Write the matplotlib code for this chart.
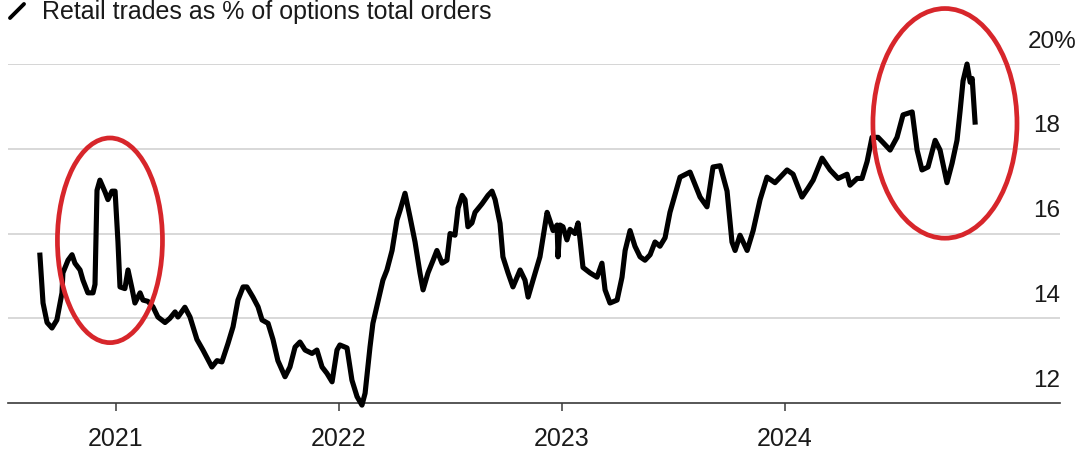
import matplotlib.pyplot as plt
from matplotlib.patches import Ellipse
from matplotlib.lines import Line2D

plt.rcParams["font.family"] = ["Liberation Sans", "DejaVu Sans"]

# decimal year, % of options total orders
years = [
    2020.659, 2020.673, 2020.691, 2020.713, 2020.735, 2020.758, 2020.762, 2020.785,
    2020.803, 2020.816, 2020.839, 2020.852, 2020.874, 2020.897, 2020.906, 2020.915,
    2020.928, 2020.951, 2020.964, 2020.982, 2020.996, 2021.009, 2021.018, 2021.040,
    2021.054, 2021.072, 2021.085, 2021.108, 2021.121, 2021.143, 2021.166, 2021.188,
    2021.220, 2021.242, 2021.265, 2021.278, 2021.309, 2021.332, 2021.363, 2021.390,
    2021.430, 2021.453, 2021.475, 2021.502, 2021.525, 2021.547, 2021.570, 2021.587,
    2021.614, 2021.637, 2021.655, 2021.682, 2021.704, 2021.726, 2021.758, 2021.780,
    2021.803, 2021.825, 2021.848, 2021.879, 2021.901, 2021.924, 2021.946, 2021.969,
    2021.991, 2022.004, 2022.036, 2022.058, 2022.081, 2022.103, 2022.117, 2022.139,
    2022.152, 2022.184, 2022.197, 2022.215, 2022.238, 2022.260, 2022.274, 2022.296,
    2022.318, 2022.341, 2022.363, 2022.377, 2022.399, 2022.422, 2022.439, 2022.462,
    2022.484, 2022.498, 2022.520, 2022.534, 2022.552, 2022.565, 2022.578, 2022.596,
    2022.610, 2022.641, 2022.668, 2022.686, 2022.700, 2022.722, 2022.735, 2022.758,
    2022.780, 2022.812, 2022.834, 2022.848, 2022.870, 2022.901, 2022.933, 2022.946,
    2022.960, 2022.978, 2022.982, 2022.991, 2023.004, 2023.022, 2023.036, 2023.058,
    2023.072, 2023.081, 2023.094, 2023.126, 2023.157, 2023.179, 2023.193, 2023.215,
    2023.247, 2023.269, 2023.283, 2023.305, 2023.327, 2023.350, 2023.372, 2023.395,
    2023.417, 2023.439, 2023.462, 2023.484, 2023.529, 2023.574, 2023.619, 2023.650,
    2023.677, 2023.709, 2023.740, 2023.762, 2023.776, 2023.798, 2023.830, 2023.857,
    2023.888, 2023.919, 2023.955, 2024.009, 2024.036, 2024.076, 2024.103, 2024.126,
    2024.166, 2024.202, 2024.238, 2024.278, 2024.291, 2024.323, 2024.345, 2024.368,
    2024.390, 2024.417, 2024.439, 2024.471, 2024.502, 2024.529, 2024.570, 2024.592,
    2024.614, 2024.641, 2024.673, 2024.695, 2024.726, 2024.749, 2024.771, 2024.785,
    2024.798, 2024.816, 2024.830, 2024.839, 2024.852,
]
retail_pct = [
    15.49, 14.36, 13.90, 13.77, 13.96, 14.60, 15.07, 15.37,
    15.50, 15.30, 15.14, 14.90, 14.60, 14.60, 14.80, 17.02,
    17.26, 16.98, 16.80, 17.00, 17.00, 15.80, 14.74, 14.70,
    15.14, 14.70, 14.36, 14.60, 14.43, 14.40, 14.27, 14.03,
    13.90, 14.00, 14.15, 14.03, 14.26, 14.03, 13.50, 13.25,
    12.85, 13.00, 12.97, 13.40, 13.80, 14.43, 14.74, 14.74,
    14.50, 14.27, 13.96, 13.88, 13.50, 13.00, 12.62, 12.85,
    13.32, 13.44, 13.25, 13.17, 13.25, 12.85, 12.70, 12.50,
    13.25, 13.37, 13.30, 12.54, 12.15, 11.95, 12.23, 13.32,
    13.88, 14.60, 14.90, 15.14, 15.60, 16.32, 16.55, 16.95,
    16.40, 15.80, 15.07, 14.67, 15.07, 15.37, 15.60, 15.30,
    15.37, 16.00, 15.96, 16.60, 16.90, 16.80, 16.16, 16.25,
    16.50, 16.70, 16.90, 17.00, 16.80, 16.24, 15.45, 15.07,
    14.74, 15.14, 14.90, 14.50, 14.90, 15.45, 16.50, 16.30,
    16.07, 16.20, 15.45, 16.20, 16.16, 15.85, 16.10, 16.00,
    16.25, 15.85, 15.20, 15.07, 14.97, 15.30, 14.67, 14.36,
    14.43, 14.97, 15.60, 16.07, 15.70, 15.45, 15.37, 15.50,
    15.80, 15.70, 15.90, 16.50, 17.33, 17.45, 16.86, 16.63,
    17.57, 17.60, 17.00, 15.80, 15.60, 15.96, 15.60, 16.07,
    16.80, 17.33, 17.20, 17.50, 17.40, 16.86, 17.07, 17.26,
    17.78, 17.50, 17.30, 17.40, 17.14, 17.30, 17.30, 17.70,
    18.27, 18.27, 18.15, 17.97, 18.27, 18.80, 18.87, 17.97,
    17.50, 17.57, 18.20, 17.97, 17.20, 17.66, 18.20, 18.90,
    19.60, 20.00, 19.57, 19.66, 18.63,
]

y_ticks = [12, 14, 16, 18, 20]
y_labels = ["12", "14", "16", "18", "20%"]
x_ticks = [2021, 2022, 2023, 2024]
x_labels = ["2021", "2022", "2023", "2024"]

# red circled periods: (center year, center value, width in years, height in %)
highlights = [(2020.973, 15.84, 0.471, 4.83), (2024.717, 18.60, 0.646, 5.42)]

fig = plt.figure(figsize=(10.84, 4.51), dpi=100)
ax = fig.add_axes([0.0074, 0.1064, 0.9705, 0.7516])

ax.plot(years, retail_pct, color="black", lw=3.7, solid_joinstyle="round",
        clip_on=False, zorder=3)

ax.set_xlim(2020.516, 2025.233)
ax.set_ylim(12, 20)

for s in ["top", "left", "right"]:
    ax.spines[s].set_visible(False)
ax.spines["bottom"].set_color("#3a3a3a")
ax.spines["bottom"].set_linewidth(1.2)
ax.spines["bottom"].set_zorder(2)

ax.set_yticks(y_ticks[1:])
ax.yaxis.grid(True, color="#d6d6d6", lw=1.3)
ax.tick_params(axis="y", left=False, labelleft=False)
ax.axhline(20, color="#d6d6d6", lw=1.3, zorder=0)
ax.set_axisbelow(True)

ax.set_xticks(x_ticks)
ax.set_xticklabels(x_labels)
ax.tick_params(axis="x", length=6, width=1.1, color="#3a3a3a", pad=11,
               labelsize=18, labelcolor="#1a1a1a")

for v, lab in zip(y_ticks, y_labels):
    if lab.endswith("%"):
        ax.text(1.0 - 0.031, v + 0.53, lab, transform=ax.get_yaxis_transform(),
                ha="left", va="center", fontsize=17.5, color="#1a1a1a")
    else:
        ax.text(1.0, v + 0.53, lab, transform=ax.get_yaxis_transform(),
                ha="right", va="center", fontsize=17.5, color="#1a1a1a")

for cx, cy, w, h in highlights:
    ax.add_patch(Ellipse((cx, cy), w, h, fill=False, edgecolor="#d7262b",
                         lw=3.4, clip_on=False, zorder=4))

# legend-style header
fig.add_artist(Line2D([10 / 1084, 24 / 1084], [1 - 18 / 451, 1 - 4 / 451],
                      transform=fig.transFigure, color="black", lw=2.8,
                      solid_capstyle="round"))
fig.text(42 / 1084, 1 - 12 / 451, "Retail trades as % of options total orders",
         ha="left", va="center", fontsize=18, color="#1a1a1a")

fig.savefig("out.png", dpi=100)
